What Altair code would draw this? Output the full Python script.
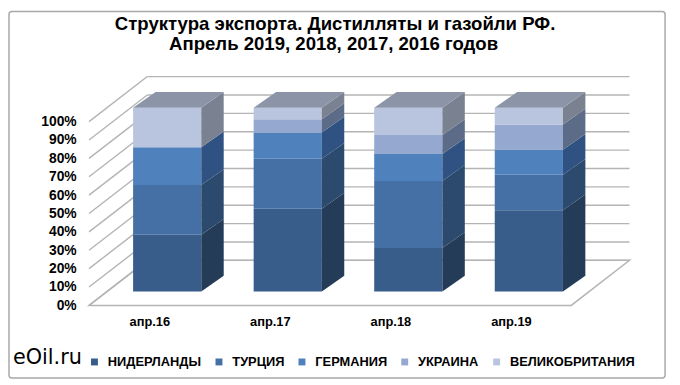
import altair as alt
import pandas as pd

# ---- data (shares, %) ----
periods = ["апр.16", "апр.17", "апр.18", "апр.19"]
countries = ["НИДЕРЛАНДЫ", "ТУРЦИЯ", "ГЕРМАНИЯ", "УКРАИНА", "ВЕЛИКОБРИТАНИЯ"]
netherlands = [30.9, 45.1, 23.7, 44.2]
turkey = [27.1, 27.1, 36.5, 19.3]
germany = [20.5, 14.3, 14.6, 13.7]
ukraine = [0.0, 7.3, 10.4, 13.7]
uk = [21.5, 6.2, 14.8, 9.1]
y_ticks = list(range(0, 101, 10))

title_lines = ["Структура экспорта. Дистилляты и газойли РФ.",
               "Апрель 2019, 2018, 2017, 2016 годов"]

# ---- style ----
front_colors = ["#385D8A", "#4470A6", "#4F81BD", "#95A8D0", "#B9C5DF"]
side_colors = ["#253C59", "#2C4A6D", "#2F5282", "#5C6C88", "#7A8292"]
top_color = "#8C95A8"
grid_color = "#B4B4B4"

# 3D geometry (in data units: x = category slots, y = percent)
WALL_DU, WALL_DP = 0.4836, 24.5      # depth of floor/side wall
BAR_T = 0.307                        # bar front position within the depth
BAR_W = 0.5656                       # bar width in category slots
BAR_DU, BAR_DP = 0.186, 8.6          # bar depth
F_DU, F_DP = BAR_T * WALL_DU, BAR_T * WALL_DP
NCAT = len(periods)

series = [netherlands, turkey, germany, ukraine, uk]

front_rows, side_rows, top_rows = [], [], []
for i, per in enumerate(periods):
    xl = i + 0.5 + F_DU - BAR_W / 2
    xr = xl + BAR_W
    cum = 0.0
    for k, c in enumerate(countries):
        v = series[k][i]
        lo, hi = cum + F_DP, cum + v + F_DP
        cum += v
        if v <= 0:
            continue
        seg = f"{i}-{k}"
        front_rows.append(dict(country=c, x=xl, x2=xr, y=lo, y2=hi))
        side_rows.append(dict(seg=seg, fc=side_colors[k], x=xr, y=lo, y2=hi))
        side_rows.append(dict(seg=seg, fc=side_colors[k], x=xr + BAR_DU,
                              y=lo + BAR_DP, y2=hi + BAR_DP))
    top = cum + F_DP
    top_rows.append(dict(seg=str(i), fc=top_color, y=top, x=xl, x2=xr))
    top_rows.append(dict(seg=str(i), fc=top_color, y=top + BAR_DP,
                         x=xl + BAR_DU, x2=xr + BAR_DU))

front_df = pd.DataFrame(front_rows)
side_df = pd.DataFrame(side_rows)
top_df = pd.DataFrame(top_rows)

floor_df = pd.DataFrame([dict(y=0, x=0, x2=NCAT),
                         dict(y=WALL_DP, x=WALL_DU, x2=NCAT + WALL_DU)])
wall_rows = []
for p in y_ticks:
    wall_rows.append(dict(x=0, x2=WALL_DU, y=p, y2=p + WALL_DP))
    wall_rows.append(dict(x=WALL_DU, x2=NCAT + WALL_DU, y=p + WALL_DP, y2=p + WALL_DP))
wall_df = pd.DataFrame(wall_rows)

xs = alt.Scale(domain=[0, NCAT + 0.5], nice=False, zero=False)
ys = alt.Scale(domain=[0, 125], nice=False, zero=False)
label_expr = "[" + ",".join(f"'{p}'" for p in periods) + "][floor(datum.value)]"

x_axis = alt.Axis(values=[i + 0.5 for i in range(NCAT)], labelExpr=label_expr,
                  title=None, domain=False, ticks=False, grid=False,
                  labelFont="Liberation Sans", labelFontSize=13, labelFontWeight="bold",
                  labelColor="black", labelPadding=10)
y_axis = alt.Axis(values=y_ticks, labelExpr="datum.value + '%'", title=None,
                  domain=False, ticks=False, grid=False,
                  labelFont="Liberation Sans", labelFontSize=14, labelFontWeight="bold",
                  labelColor="black", labelPadding=13)


def X(f):
    return alt.X(f, scale=xs, axis=x_axis)


def Y(f):
    return alt.Y(f, scale=ys, axis=y_axis)


floor = alt.Chart(floor_df).mark_area(orient="horizontal", fill="white",
                                      stroke=grid_color, strokeWidth=1.5).encode(
    y=Y("y:Q"), x=X("x:Q"), x2="x2:Q",
)
walls = alt.Chart(wall_df).mark_rule(color=grid_color, strokeWidth=1.4).encode(
    x=X("x:Q"), x2="x2:Q", y=Y("y:Q"), y2="y2:Q",
)
fronts = alt.Chart(front_df).mark_rect().encode(
    x=X("x:Q"), x2="x2:Q", y=Y("y:Q"), y2="y2:Q",
    color=alt.Color("country:N",
                    scale=alt.Scale(domain=countries, range=front_colors),
                    legend=alt.Legend(orient="none", legendX=-1, legendY=283,
                                      direction="horizontal", title=None,
                                      symbolType="square", symbolSize=49,
                                      symbolStrokeWidth=0,
                                      labelFont="Liberation Sans", labelFontSize=13,
                                      labelFontWeight="bold", labelColor="black",
                                      columnPadding=11, labelOffset=7, padding=0)),
)
sides = alt.Chart(side_df).mark_area(orient="vertical").encode(
    x=X("x:Q"), y=Y("y:Q"), y2="y2:Q",
    fill=alt.Fill("fc:N", scale=None), detail="seg:N",
)
tops = alt.Chart(top_df).mark_area(orient="horizontal").encode(
    y=Y("y:Q"), x=X("x:Q"), x2="x2:Q",
    fill=alt.Fill("fc:N", scale=None), detail="seg:N",
)

one = pd.DataFrame({"a": [0]})
border = alt.Chart(one).mark_rect(filled=False, stroke="#A8A8A8", strokeWidth=1.5,
                                  cornerRadius=3).encode(
    x=alt.value(-81), x2=alt.value(583), y=alt.value(-65), y2=alt.value(306))
brand = alt.Chart(one).mark_text(text="eOil.ru", font="DejaVu Sans", fontSize=21,
                                 align="left", baseline="alphabetic", color="black").encode(
    x=alt.value(-77), y=alt.value(291.5))
title1 = alt.Chart(one).mark_text(text=title_lines[0], font="Liberation Sans", fontSize=18.8,
                                  fontWeight="bold", align="center", baseline="alphabetic",
                                  color="black").encode(x=alt.value(249), y=alt.value(-45.9))
title2 = alt.Chart(one).mark_text(text=title_lines[1], font="Liberation Sans", fontSize=18.8,
                                  fontWeight="bold", align="center", baseline="alphabetic",
                                  color="black").encode(x=alt.value(247.5), y=alt.value(-25.9))

chart = alt.layer(border, floor, walls, fronts, sides, tops, brand, title1, title2).properties(
    width=549, height=232.5,
    padding={"left": 82, "top": 66.2, "right": 41, "bottom": 78.3},
    autosize=alt.AutoSizeParams(type="none"),
    background="white",
).configure_view(stroke=None)

chart.save("out.html", embed_options={"renderer": "svg", "actions": False})
